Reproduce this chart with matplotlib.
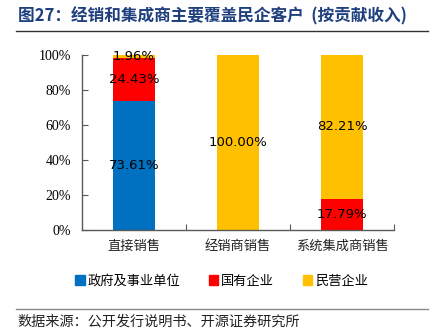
import matplotlib
matplotlib.use("Agg")
import matplotlib.pyplot as plt
import numpy as np
from matplotlib.lines import Line2D

plt.rcParams['font.family'] = ['Noto Sans CJK SC', 'DejaVu Sans']

categories = ["直接销售", "经销商销售", "系统集成商销售"]
series_names = ["政府及事业单位", "国有企业", "民营企业"]
gov = [73.61, 0.0, 0.0]
soe = [24.43, 0.0, 17.79]
private = [1.96, 100.00, 82.21]
colors = ["#0070C0", "#FF0000", "#FFC000"]
yticks = [0, 20, 40, 60, 80, 100]

title = "图27：经销和集成商主要覆盖民企客户  (按贡献收入)"
source = "数据来源：公开发行说明书、开源证券研究所"

fig = plt.figure(figsize=(4.43, 3.36), dpi=100)
ax = fig.add_axes([82/443, 1-230/336, 312/443, 175/336])

x = np.arange(len(categories))
width = 0.41
bottom = np.zeros(len(categories))
for name, vals, col in zip(series_names, [gov, soe, private], colors):
    vals = np.array(vals)
    ax.bar(x, vals, width, bottom=bottom, color=col, label=name)
    for xi, b, v in zip(x, bottom, vals):
        if v > 0:
            ax.text(xi, b + v / 2, f"{v:.2f}%", ha='center', va='center',
                    fontsize=9.5, color='black', family=['DejaVu Sans'])
    bottom += vals

ax.set_xlim(-0.5, 2.5)
ax.set_ylim(0, 100)
ax.set_yticks(yticks)
ax.set_yticklabels([f"{t}%" for t in yticks], family=['Liberation Serif'], fontsize=10)
ax.set_xticks([0.5, 1.5, 2.5], minor=False)
ax.set_xticklabels([])
ax.tick_params(axis='x', direction='in', length=4, color='#595959')
ax.tick_params(axis='y', direction='in', length=4, color='#595959', pad=8)
for s in ['top', 'right']:
    ax.spines[s].set_visible(False)
for s in ['left', 'bottom']:
    ax.spines[s].set_color('#595959')
    ax.spines[s].set_linewidth(1.0)

for xi, c in zip(x, categories):
    ax.text(xi, -5.5, c, ha='center', va='top', fontsize=9.5, color='#222222',
            transform=ax.transData)

handles = [plt.Rectangle((0, 0), 1, 1, color=c) for c in colors]
fig.legend(handles, series_names, loc='center', bbox_to_anchor=(0.5, 1-281/336),
           ncol=3, frameon=False, fontsize=9.5, handlelength=0.7, handleheight=0.7,
           handletextpad=0.2, columnspacing=2.2)

fig.text(18/443, 1-16/336, title, ha='left', va='center', fontsize=12,
         fontweight='bold', color='#1F3F7F')
fig.add_artist(Line2D([16/443, 428/443], [1-31/336, 1-31/336], color='#333333', lw=1.0))
fig.add_artist(Line2D([16/443, 428/443], [1-309/336, 1-309/336], color='#888888', lw=1.0))
fig.text(17/443, 1-322/336, source, ha='left', va='center', fontsize=10.2, color='#222222')

fig.savefig("out.png", dpi=100)
